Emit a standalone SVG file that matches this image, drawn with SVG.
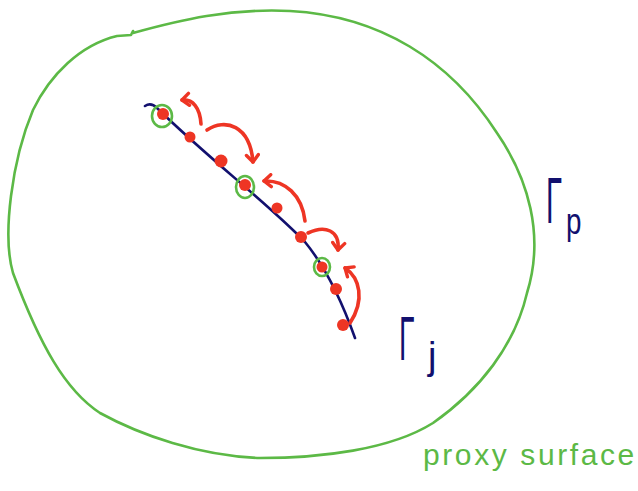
<svg xmlns="http://www.w3.org/2000/svg" width="638" height="491" viewBox="0 0 638 491">
<style>
.green{fill:none;stroke:#5cb946;stroke-width:2.6;stroke-linecap:round;stroke-linejoin:round}
.navy{fill:none;stroke:#12106e;stroke-width:2.6;stroke-linecap:round}
.dot{fill:#ee3524}
.arrow{fill:none;stroke:#ee3524;stroke-width:3.6;stroke-linecap:round;marker-end:url(#head)}
.lbl{font-family:"Liberation Sans",Arial,sans-serif;fill:#12106e}
.gtxt{font-family:"Liberation Sans",Arial,sans-serif;fill:#5cb946}
</style>
<defs>
<marker id="head" markerUnits="userSpaceOnUse" markerWidth="16" markerHeight="16" viewBox="0 0 16 16" refX="10" refY="8" orient="auto">
<path d="M3,2 L10,8 L3,14" fill="none" stroke="#ee3524" stroke-width="3.4" stroke-linecap="round" stroke-linejoin="round"/>
</marker>
</defs>
<rect width="638" height="491" fill="#ffffff"/>
<g id="proxy-surface">
<path class="green" d="M133,33 C180,20 230,8 290,11 C380,16 450,60 497,133 C528,178 545,235 527,293 C515,345 480,390 433,423 C390,450 320,458 260,458 C200,456 140,435 100,413 C65,390 40,345 13,273 C2,235 12,160 33,110 C50,75 80,45 117,36 L131,35 L133,31"/>
</g>
<g id="gamma-j-curve">
<path class="navy" d="M145,106 Q151,102 157,108 C210,160 270,205 305,242 C328,270 345,310 355,338"/>
</g>
<g id="selected">
<ellipse class="green" cx="162" cy="116" rx="10" ry="11"/>
<ellipse class="green" cx="245" cy="187" rx="9" ry="11"/>
<ellipse class="green" cx="322" cy="267" rx="8" ry="9"/>
</g>
<g id="points">
<circle id="p1" class="dot" cx="163" cy="114" r="6"/>
<circle id="p2" class="dot" cx="190" cy="137" r="5.5"/>
<circle id="p3" class="dot" cx="221" cy="161" r="6.5"/>
<circle id="p4" class="dot" cx="245" cy="185" r="6"/>
<circle id="p5" class="dot" cx="277" cy="208" r="5.5"/>
<circle id="p6" class="dot" cx="301" cy="237" r="6"/>
<circle id="p7" class="dot" cx="322" cy="267" r="5.5"/>
<circle id="p8" class="dot" cx="336" cy="289" r="6"/>
<circle id="p9" class="dot" cx="343" cy="325" r="6"/>
</g>
<g id="connectors">
<path class="arrow" d="M201,124 C200,108 193,99 182,100"/>
<path class="arrow" d="M207,130 C225,118 250,125 253,162"/>
<path class="arrow" d="M305,221 C302,195 285,180 264,181"/>
<path class="arrow" d="M308,233 C325,225 340,230 338,250"/>
<path class="arrow" d="M350,323 C365,300 360,278 345,268"/>
</g>
<g id="label-gamma-p">
<text class="lbl" transform="translate(546,223) scale(0.45,1)" font-size="65">Γ</text>
<text class="lbl" transform="translate(566,234) scale(0.75,1)" font-size="37">p</text>
</g>
<g id="label-gamma-j">
<text class="lbl" transform="translate(399,360) scale(0.45,1)" font-size="63">Γ</text>
<text class="lbl" x="428" y="369" font-size="38">j</text>
</g>
<g id="label-proxy">
<text class="gtxt" x="423" y="465" font-size="30" letter-spacing="2.6">proxy surface</text>
</g>
</svg>
